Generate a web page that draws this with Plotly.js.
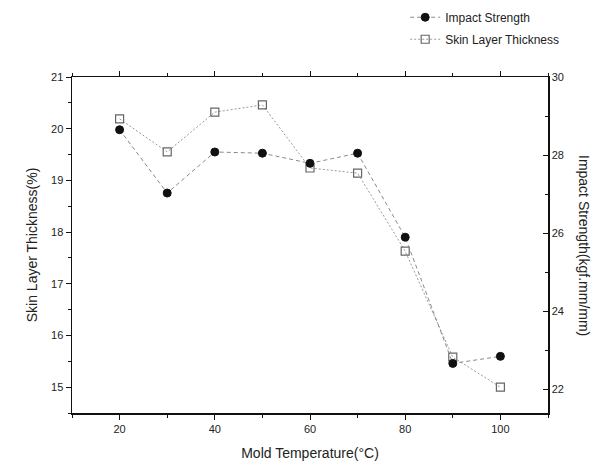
<!DOCTYPE html>
<html>
<head>
<meta charset="utf-8">
<script src="https://cdn.plot.ly/plotly-3.0.1.min.js"></script>
<style>
html,body{margin:0;padding:0;background:#fff;}
#chart{width:604px;height:474px;}
</style>
</head>
<body>
<div id="chart"></div>
<script>
// Data
const moldTemperature = [20, 30, 40, 50, 60, 70, 80, 90, 100];
const impactStrength = [28.65, 27.03, 28.08, 28.05, 27.79, 28.05, 25.9, 22.67, 22.85];
const skinLayerThickness = [20.19, 19.55, 20.32, 20.46, 19.24, 19.14, 17.63, 15.58, 15.0];
const xTickVals = [20, 40, 60, 80, 100];
const leftTickVals = [15, 16, 17, 18, 19, 20, 21];
const rightTickVals = [22, 24, 26, 28, 30];

const font = "Liberation Sans, Arial, sans-serif";

const traces = [
  {
    x: moldTemperature, y: impactStrength, yaxis: 'y2', name: 'Impact Strength',
    legendgroup: 'a',
    type: 'scatter', mode: 'lines+markers',
    line: {color: '#8a8a8a', width: 1, dash: '4px,3px'},
    marker: {symbol: 'circle', size: 8, color: '#111', line: {color: '#111', width: 1}}
  },
  {
    x: moldTemperature, y: skinLayerThickness, yaxis: 'y', name: 'Skin Layer Thickness',
    legendgroup: 'b',
    type: 'scatter', mode: 'lines+markers',
    line: {color: '#9a9a9a', width: 1, dash: '2px,2px'},
    marker: {symbol: 'square-open', size: 8, color: '#666', line: {color: '#666', width: 1.2}}
  }
];

const layout = {
  width: 604, height: 474,
  margin: {l: 72, r: 56, t: 77, b: 61, autoexpand: false},
  paper_bgcolor: '#fff', plot_bgcolor: '#fff',
  font: {family: font, color: '#222', size: 11},
  showlegend: true,
  legend: {
    x: 0.7, y: 1.221, xanchor: 'left', yanchor: 'top',
    bgcolor: 'rgba(0,0,0,0)', font: {family: font, size: 12, color: '#222'},
    tracegroupgap: 3
  },
  xaxis: {
    range: [10, 110], tickvals: xTickVals, ticks: 'outside', ticklen: 5, tickwidth: 1,
    tickcolor: '#111', showline: true, linecolor: '#111', linewidth: 1.5, mirror: 'ticks',
    showgrid: false, zeroline: false,
    minor: {dtick: 10, ticks: 'outside', ticklen: 3, tickcolor: '#111', showgrid: false},
    tickfont: {family: font, size: 11, color: '#222'},
    title: {text: 'Mold Temperature(°C)', font: {family: font, size: 14, color: '#222'}, standoff: 14}
  },
  yaxis: {
    range: [14.5, 21], tickvals: leftTickVals, ticks: 'outside', ticklen: 5, tickcolor: '#111',
    showline: true, linecolor: '#111', linewidth: 1.5, showgrid: false, zeroline: false,
    minor: {dtick: 0.5, ticks: 'outside', ticklen: 3, tickcolor: '#111', showgrid: false},
    tickfont: {family: font, size: 11, color: '#222'},
    title: {text: 'Skin Layer Thickness(%)', font: {family: font, size: 14, color: '#222'}, standoff: 10}
  },
  yaxis2: {
    overlaying: 'y', side: 'right', range: [21.4, 30], tickvals: rightTickVals,
    ticks: 'inside', ticklen: 5, tickcolor: '#111',
    showline: true, linecolor: '#111', linewidth: 1.5, showgrid: false, zeroline: false,
    minor: {dtick: 1, ticks: 'inside', ticklen: 3, tickcolor: '#111', showgrid: false},
    tickfont: {family: font, size: 11, color: '#222'}
  },
  annotations: [
    {
      text: 'Impact Strength(kgf.mm/mm)', xref: 'paper', yref: 'paper',
      x: 1.0, xshift: 36, y: 0.5, xanchor: 'center', yanchor: 'middle',
      textangle: 90, showarrow: false,
      font: {family: font, size: 14, color: '#222'}
    }
  ]
};

Plotly.newPlot('chart', traces, layout, {displayModeBar: false, staticPlot: true});
</script>
</body>
</html>
